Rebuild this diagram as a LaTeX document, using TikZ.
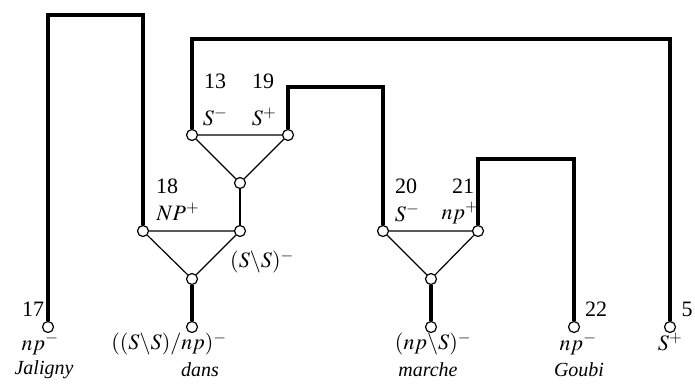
\documentclass[tikz,border=0pt]{standalone}
\usepackage{mathptmx}
\usepackage{fontspec}
\setmainfont{Liberation Serif}
\begin{document}
\begin{tikzpicture}[x=1pt,y=-1pt,
  vtx/.style={circle,draw,fill=white,line width=1.2pt,minimum size=11pt,inner sep=0pt},
  link/.style={line width=4.8pt},
  edge/.style={line width=1.2pt},
  lbl/.style={inner sep=0pt,font=\fontsize{22}{24}\selectfont},
  wlbl/.style={inner sep=0pt,font=\fontsize{20}{22}\selectfont\itshape}]
\useasboundingbox (0,0) rectangle (695,383);
% vertices
\node[vtx] (n17) at (48,327) {};
\node[vtx] (n18) at (143,231) {};
\node[vtx] (nss) at (240,231) {};
\node[vtx] (b1) at (192,279) {};
\node[vtx] (ndans) at (192,327) {};
\node[vtx] (n13) at (192,135) {};
\node[vtx] (n19) at (288,135) {};
\node[vtx] (b2) at (240,183) {};
\node[vtx] (n20) at (383,231) {};
\node[vtx] (n21) at (478,231) {};
\node[vtx] (b3) at (431,279) {};
\node[vtx] (nmar) at (431,327) {};
\node[vtx] (n22) at (574,327) {};
\node[vtx] (n5) at (670,327) {};
% corner coordinates
\coordinate (t1) at (95,15);
\coordinate (t2) at (430,39);
\coordinate (t3) at (335,87);
\coordinate (t4) at (526,159);
% axiom links
\draw[link] (n17) |- (t1) -| (n18);
\draw[link] (n13) |- (t2) -| (n5);
\draw[link] (n19) |- (t3) -| (n20);
\draw[link] (n21) |- (t4) -| (n22);
\draw[link] (b1) -- (ndans);
\draw[link] (b3) -- (nmar);
% tensor links
\draw[edge] (n13) -- (n19) (n13) -- (b2) (n19) -- (b2);
\draw[edge] (b2) -- (nss);
\draw[edge] (n18) -- (nss) (n18) -- (b1) (nss) -- (b1);
\draw[edge] (n20) -- (n21) (n20) -- (b3) (n21) -- (b3);
% labels
\node[lbl] (l13) at (215,81) {13};
\node[lbl] (l19) at (263,81) {19};
\node[lbl] (lsm) at (215,117) {$S^-$};
\node[lbl] (lsp) at (264,117) {$S^+$};
\node[lbl] (l18) at (167,186) {18};
\node[lbl] (lnp) at (178,212) {$NP^+$};
\node[lbl] (lss) at (262,262) {$(S\backslash S)^-$};
\node[lbl] (l17) at (33,309) {17};
\node[lbl] (lnp1) at (40,344) {$np^-$};
\node[wlbl] (lj) at (44,370) {Jaligny};
\node[lbl] (lssnp) at (169,344) {$((S\backslash S)/np)^-$};
\node[wlbl] (ld) at (200,370) {dans};
\node[lbl] (l20) at (406,186) {20};
\node[lbl] (l21) at (463,186) {21};
\node[lbl] (lsm2) at (407,213) {$S^-$};
\node[lbl] (lnp2) at (460,213) {$np^+$};
\node[lbl] (lnps) at (433,344) {$(np\backslash S)^-$};
\node[wlbl] (lm) at (428,370) {marche};
\node[lbl] (l22) at (596,309) {22};
\node[lbl] (lnp3) at (578,344) {$np^-$};
\node[wlbl] (lg) at (579,370) {Goubi};
\node[lbl] (l5) at (687,309) {5};
\node[lbl] (ls5) at (670,342) {$S^+$};
\end{tikzpicture}
\end{document}
